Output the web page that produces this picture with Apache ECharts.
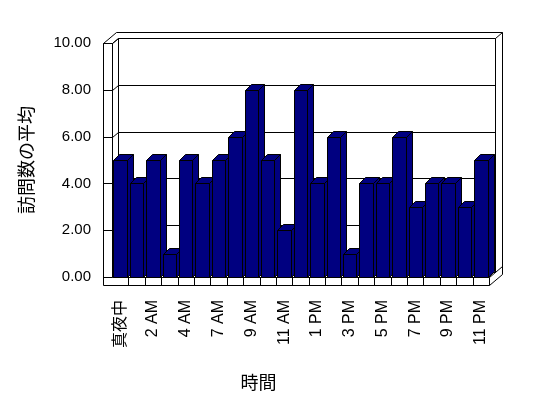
<!DOCTYPE html>
<html><head><meta charset="utf-8">
<script src="https://cdn.jsdelivr.net/npm/echarts@6/dist/echarts.min.js"></script>
<style>html,body{margin:0;padding:0;background:#fff}#c{width:548px;height:398px}</style>
</head><body><div id="c"></div>
<script>
const categories = ['真夜中','1 AM','2 AM','3 AM','4 AM','5 AM','7 AM','8 AM','9 AM','10 AM','11 AM','正午','1 PM','2 PM','3 PM','4 PM','5 PM','6 PM','7 PM','8 PM','9 PM','10 PM','11 PM'];
const visits = [5,4,5,1,5,4,5,6,8,5,2,8,4,6,1,4,4,6,3,4,4,3,5];
const yTicks = [0,2,4,6,8,10];
const xAxisTitle = '時間';
const yAxisTitle = '訪問数の平均';

const FONT = "'Liberation Sans','Noto Sans CJK JP',sans-serif";
const BAR = '#000080';
const bdx = 6, bdy = -6;     // bar depth
const wdx = 6, wdy = -5;     // back wall inner
const odx = 13, ody = -11;   // back wall outer
const LW = 9, FL = 8;        // left wall / floor thickness

const chart = echarts.init(document.getElementById('c'), null, {renderer:'canvas'});

function line(pts){ return {type:'polyline', shape:{points:pts}, style:{stroke:'#000', lineWidth:1, fill:null}}; }

chart.setOption({
  animation:false,
  backgroundColor:'#fff',
  grid:{left:112, right:59, top:43, bottom:121},
  xAxis:{
    type:'category', data:categories,
    axisLine:{show:false}, axisTick:{show:false}, splitLine:{show:false},
    axisLabel:{interval:1, rotate:90, margin:23, color:'#000', fontSize:16, fontFamily:FONT},
    name:xAxisTitle, nameLocation:'middle', nameGap:98,
    nameTextStyle:{color:'#000', fontSize:18, fontFamily:FONT, padding:[0,84,0,0]}
  },
  yAxis:{
    type:'value', min:0, max:10, interval:2,
    axisLine:{show:false}, axisTick:{show:false}, splitLine:{show:false},
    axisLabel:{margin:21, color:'#000', fontSize:15, fontFamily:FONT, formatter:v=>v.toFixed(2)},
    name:yAxisTitle, nameLocation:'middle', nameGap:75, nameRotate:90,
    nameTextStyle:{color:'#000', fontSize:18, fontFamily:FONT}
  },
  series:[
    {
      type:'custom', z:1, silent:true, data:[[0,0]],
      renderItem:function(params, api){
        const cs = params.coordSys;
        const L = Math.round(cs.x)+0.5, R = Math.round(cs.x+cs.width)+0.5;
        const T = Math.round(cs.y)+0.5, B = Math.round(cs.y+cs.height)+0.5;
        const children = [];
        // outer outline
        children.push({type:'polygon', shape:{points:[
          [L-LW,B+FL],[L-LW,T],[L-LW+odx,T+ody],[R+odx,T+ody],[R+odx,B+FL+ody],[R,B+FL]
        ]}, style:{fill:'#fff', stroke:'#000', lineWidth:1}});
        // inner edges
        children.push(line([[L,B],[L,T],[L+wdx,T+wdy],[R+wdx,T+wdy],[R+wdx,B+wdy]]));
        children.push(line([[R+wdx,T+wdy],[R+odx,T+ody]]));
        children.push(line([[L+wdx,T+wdy],[L+wdx,B+wdy],[R+wdx,B+wdy]]));
        children.push(line([[L-LW,T],[L,T]]));
        children.push(line([[L,B],[R,B],[R+odx,B+ody]]));
        children.push(line([[R,B],[R,B+FL]]));
        // category dividers on floor front
        const n = categories.length;
        for (let k=1;k<n;k++){
          const x = Math.round(api.coord([k,0])[0] - api.size([1,0])[0]/2)+0.5;
          children.push(line([[x,B],[x,B+FL]]));
        }
        // value ticks and back-wall gridlines
        yTicks.forEach(t=>{
          const y = Math.round(api.coord([0,t])[1])+0.5;
          if (t===0) return;
          children.push(line([[L-LW,y],[L,y],[L+wdx,y+wdy],[R+wdx,y+wdy]]));
        });
        {
          const y0 = B;
          children.push(line([[L-LW,y0],[L,y0]]));
        }
        return {type:'group', children};
      }
    },
    {
      type:'custom', z:2, data:visits.map((v,i)=>[i,v]),
      renderItem:function(params, api){
        const i = api.value(0), v = api.value(1);
        const p0 = api.coord([i,0]), p1 = api.coord([i,v]);
        const bw = api.size([1,0])[0]*0.82;
        const xl = Math.round(p0[0]-bw/2)+0.5, xr = Math.round(p0[0]+bw/2)+0.5;
        const yt = Math.round(p1[1])+0.5, yb = Math.round(p0[1])+0.5;
        const st = {fill:BAR, stroke:'#000', lineWidth:1};
        return {type:'group', children:[
          {type:'polygon', shape:{points:[[xr,yb],[xr,yt],[xr+bdx,yt+bdy],[xr+bdx,yb+bdy]]}, style:st},
          {type:'polygon', shape:{points:[[xl,yt],[xl+bdx,yt+bdy],[xr+bdx,yt+bdy],[xr,yt]]}, style:st},
          {type:'rect', shape:{x:xl,y:yt,width:xr-xl,height:yb-yt}, style:st}
        ]};
      }
    }
  ]
});
</script></body></html>
